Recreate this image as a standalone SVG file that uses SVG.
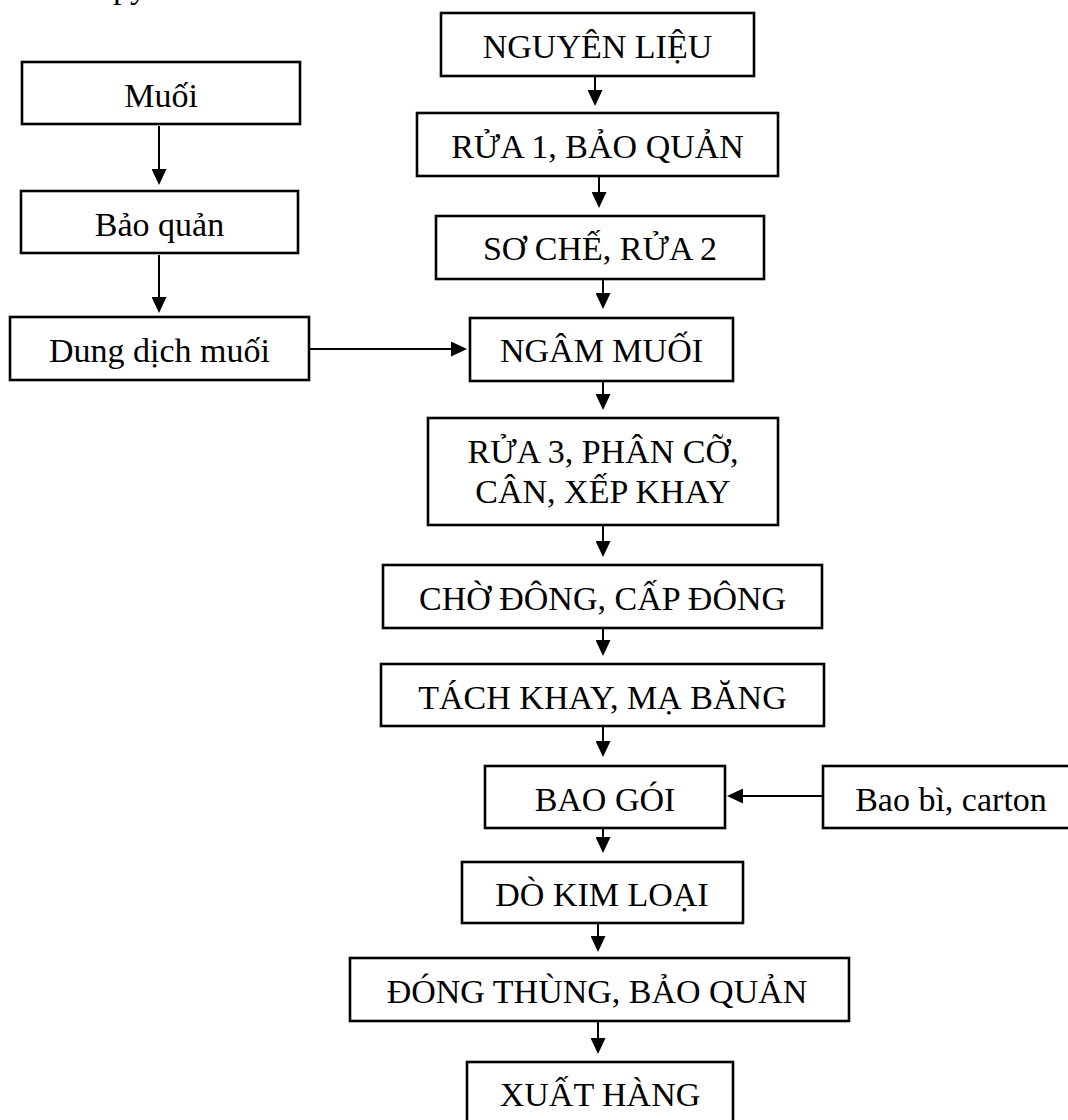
<svg xmlns="http://www.w3.org/2000/svg" width="1068" height="1120" viewBox="0 0 1068 1120">
  <style>
    .box { fill: #ffffff; stroke: #000000; stroke-width: 2.6; }
    .lbl { font-family: "Liberation Serif", "Times New Roman", serif; font-size: 34px; fill: #000000; text-anchor: middle; }
    .frag { font-family: "Liberation Serif", "Times New Roman", serif; font-size: 34px; fill: #000000; }
    .conn { stroke: #000000; stroke-width: 2; fill: none; marker-end: url(#ah); }
  </style>
  <defs>
    <marker id="ah" viewBox="0 0 16 15" markerWidth="16" markerHeight="15" refX="1" refY="7.5" orient="auto" markerUnits="userSpaceOnUse">
      <path d="M0,0 L16,7.5 L0,15 Z" fill="#000000"/>
    </marker>
  </defs>
  <rect x="0" y="0" width="1068" height="1120" fill="#ffffff"/>
  <text class="frag" x="113" y="-2">py</text>

  <g id="connectors">
    <line class="conn" x1="159" y1="126" x2="159" y2="170"/>
    <line class="conn" x1="159" y1="255" x2="159" y2="298"/>
    <line class="conn" x1="310" y1="349" x2="452" y2="349"/>
    <line class="conn" x1="823" y1="796" x2="742" y2="796"/>
    <line class="conn" x1="595" y1="77" x2="595" y2="91"/>
    <line class="conn" x1="599" y1="177" x2="599" y2="193"/>
    <line class="conn" x1="603" y1="280" x2="603" y2="294"/>
    <line class="conn" x1="603" y1="382" x2="603" y2="395"/>
    <line class="conn" x1="603" y1="526" x2="603" y2="542"/>
    <line class="conn" x1="603" y1="629" x2="603" y2="641"/>
    <line class="conn" x1="603" y1="727" x2="603" y2="742"/>
    <line class="conn" x1="603" y1="829" x2="603" y2="838"/>
    <line class="conn" x1="598" y1="924" x2="598" y2="937"/>
    <line class="conn" x1="598" y1="1022" x2="598" y2="1039"/>
  </g>

  <g id="n-muoi">
    <rect class="box" x="22" y="62" width="278" height="62"/>
    <text class="lbl" x="161" y="107">Muối</text>
  </g>
  <g id="n-baoquan">
    <rect class="box" x="21" y="191" width="277" height="62"/>
    <text class="lbl" x="159.5" y="236">Bảo quản</text>
  </g>
  <g id="n-dungdich">
    <rect class="box" x="10" y="317" width="299" height="63"/>
    <text class="lbl" x="159.5" y="362">Dung dịch muối</text>
  </g>
  <g id="n-nguyenlieu">
    <rect class="box" x="441" y="13" width="313" height="63"/>
    <text class="lbl" x="597.5" y="58">NGUYÊN LIỆU</text>
  </g>
  <g id="n-rua1">
    <rect class="box" x="417" y="113" width="361" height="63"/>
    <text class="lbl" x="597.5" y="158">RỬA 1, BẢO QUẢN</text>
  </g>
  <g id="n-soche">
    <rect class="box" x="436" y="216" width="328" height="63"/>
    <text class="lbl" x="600" y="260">SƠ CHẾ, RỬA 2</text>
  </g>
  <g id="n-ngammuoi">
    <rect class="box" x="470" y="318" width="263" height="63"/>
    <text class="lbl" x="601.5" y="362">NGÂM MUỐI</text>
  </g>
  <g id="n-rua3">
    <rect class="box" x="428" y="418" width="350" height="107"/>
    <text class="lbl" x="603" y="463">RỬA 3, PHÂN CỠ,</text>
    <text class="lbl" x="603" y="503">CÂN, XẾP KHAY</text>
  </g>
  <g id="n-chodong">
    <rect class="box" x="383" y="565" width="439" height="63"/>
    <text class="lbl" x="602.5" y="610">CHỜ ĐÔNG, CẤP ĐÔNG</text>
  </g>
  <g id="n-tachkhay">
    <rect class="box" x="381" y="664" width="443" height="62"/>
    <text class="lbl" x="602.5" y="709">TÁCH KHAY, MẠ BĂNG</text>
  </g>
  <g id="n-baogoi">
    <rect class="box" x="485" y="766" width="240" height="62"/>
    <text class="lbl" x="605" y="811">BAO GÓI</text>
  </g>
  <g id="n-baobi">
    <rect class="box" x="823" y="766" width="256" height="62"/>
    <text class="lbl" x="951" y="811">Bao bì, carton</text>
  </g>
  <g id="n-dokimloai">
    <rect class="box" x="462" y="862" width="281" height="61"/>
    <text class="lbl" x="602" y="906">DÒ KIM LOẠI</text>
  </g>
  <g id="n-dongthung">
    <rect class="box" x="350" y="958" width="499" height="63"/>
    <text class="lbl" x="597" y="1003">ĐÓNG THÙNG, BẢO QUẢN</text>
  </g>
  <g id="n-xuathang">
    <rect class="box" x="467" y="1062" width="266" height="63"/>
    <text class="lbl" x="600" y="1106">XUẤT HÀNG</text>
  </g>
</svg>
